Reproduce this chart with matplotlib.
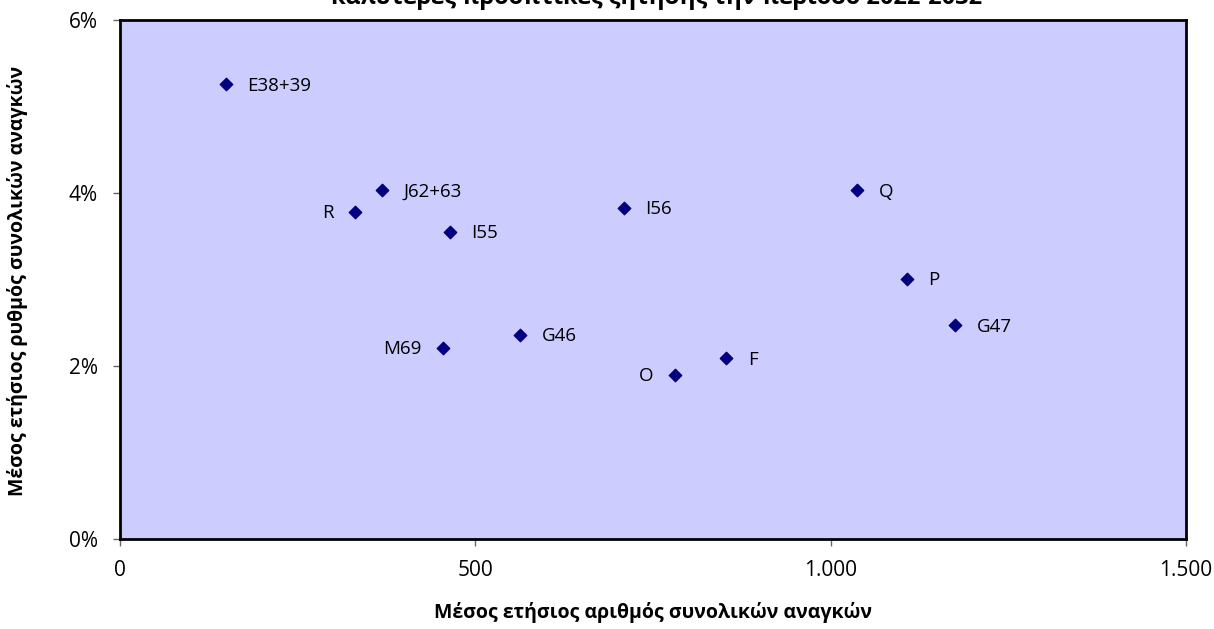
import matplotlib

matplotlib.use("Agg")
import matplotlib.pyplot as plt
from matplotlib.ticker import FuncFormatter

plt.rcParams["font.family"] = ["Open Sans", "DejaVu Sans"]

# sector codes, average annual total needs, average annual growth rate (%)
SECTORS = ["E38+39", "J62+63", "R", "I55", "I56", "Q", "P", "G47", "F", "O", "G46", "M69"]
AVG_NEEDS = [149, 369, 331, 464, 709, 1037, 1107, 1175, 853, 781, 563, 454]
AVG_RATE = [5.26, 4.03, 3.78, 3.55, 3.83, 4.03, 3.01, 2.47, 2.09, 1.90, 2.36, 2.21]
LEFT_LABELS = {"R", "M69", "O"}

TITLE = "καλύτερες προοπτικές ζήτησης την περίοδο 2022-2032"
X_LABEL = "Μέσος ετήσιος αριθμός συνολικών αναγκών"
Y_LABEL = "Μέσος ετήσιος ρυθμός συνολικών αναγκών"


def thousands(v, _):
    return f"{v:,.0f}".replace(",", ".")


def main():
    fig = plt.figure(figsize=(12.14, 6.29), dpi=100)
    ax = fig.add_axes([0.0988, 0.1431, 0.8782, 0.8249])
    ax.set_facecolor("#CCCCFF")

    ax.scatter(AVG_NEEDS, AVG_RATE, marker="D", s=40, color="#000080", zorder=3)
    for name, x, y in zip(SECTORS, AVG_NEEDS, AVG_RATE):
        if name in LEFT_LABELS:
            ax.annotate(name, (x, y), xytext=(-15.5, -1), textcoords="offset points",
                        ha="right", va="center", fontsize=13.5)
        else:
            ax.annotate(name, (x, y), xytext=(15.5, -1), textcoords="offset points",
                        ha="left", va="center", fontsize=13.5)

    ax.set_xlim(0, 1500)
    ax.set_ylim(0, 6)
    ax.set_xticks([0, 500, 1000, 1500])
    ax.set_yticks([0, 2, 4, 6])
    ax.xaxis.set_major_formatter(FuncFormatter(thousands))
    ax.yaxis.set_major_formatter(FuncFormatter(lambda v, _: f"{v:.0f}%"))
    ax.tick_params(axis="both", direction="out", length=5, width=1,
                   color="#666666", labelsize=15)
    ax.tick_params(axis="x", pad=10)
    ax.tick_params(axis="y", pad=11)
    for spine in ax.spines.values():
        spine.set_linewidth(2)
        spine.set_color("black")

    ax.set_xlabel(X_LABEL, fontsize=14, fontweight="bold", va="center")
    ax.xaxis.set_label_coords(0.5, -0.142)
    ax.set_ylabel(Y_LABEL, fontsize=14, fontweight="bold", va="center")
    ax.yaxis.set_label_coords(-0.096, 0.497)

    fig.text(0.541, 0.9936, TITLE, ha="center", va="baseline",
             fontsize=17, fontweight="bold")

    fig.savefig("out.png", dpi=100)
    plt.close(fig)


if __name__ == "__main__":
    main()
